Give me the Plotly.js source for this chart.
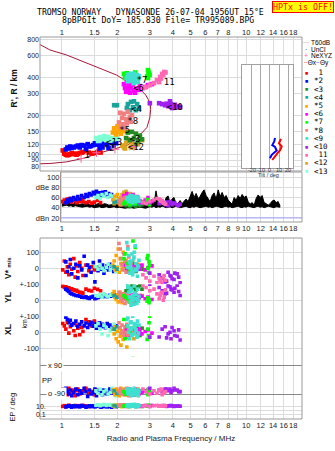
<!DOCTYPE html>
<html><head><meta charset="utf-8">
<script src="https://cdn.plot.ly/plotly-3.0.1.min.js"></script>
<style>html,body{margin:0;padding:0;background:#fff}#chart{width:335px;height:451px}</style>
</head><body><div id="chart"></div>
<script>
// ---------- axis ticks ----------
const gridF = [1,1.5,2,3,4,5,6,7,8,9,10,12,14,16,18];
const topTickText = ['1','1.5','2','3','4','5','6','7','8','','10','12','14','16','18'];
const midTickText = ['1','1.5','2','3','4','5','6','7','8','9','10','12','14','16','18'];
const botTickText = ['1','1.5','2','3','4','5','6','7','8','','10','12','14','16','18'];
const hTicks = [80,90,100,120,150,200,300,400,600,800];
const dbTicks = [20,40,60,80,100];
const dbTickText = ['dBn 20','40','60','dBe 80','100'];
const tiltTicks = [-20,-10,0,10,20];

// ---------- echo classes ----------
const classNames = ['1','*2','<3','<4','*5','<6','*7','*8','<9','<10','11','<12','<13'];
const classColors = ['#ff0000','#0000ff','#228b22','#1aa39a','#ffa500','#ff00ff','#00ff00','#f08080','#40e0d0','#a020f0','#ff69b4','#daa520','#7fffd4'];

// class 1 (red)
const c1_f  = [1.01,1.03,1.05,1.07,1.09,1.11,1.13,1.16,1.18,1.20,1.22,1.25,1.28,1.30,1.35,1.40,1.45,1.50,1.56,1.62];
const c1_h  = [107,101,99,98,99,100,102,101,100,99,101,102,103,104,106,103,101,102,104,103];
const c1_amp= [52,55,50,57,53,58,51,54,56,50,55,52,57,53,50,52,49,51,54,50];
const c1_vs = [-10,45,-25,10,-40,25,-5,60,-55,15,-20,35,0,-45,20,-15,10,-10,5,-5];
const c1_yl = [88,80,84,75,78,70,72,65,60,62,55,50,48,45,70,62,58,75,68,60];
const c1_xl = [55,40,20,62,-5,35,50,10,-20,45,25,-15,30,5,80,65,40,70,55,45];
const c1_pp = [-60,-80,-70,-95,-55,-85,-75,-65,-100,-70,-60,-90,-80,-70,-55,-85,-75,-95,-65,-80];
const c1_ep = [8,12,6,10,15,9,11,7,13,10,8,12,9,14,10,7,11,9,12,8];
// class *2 (blue)
const c2_f  = [1.05,1.07,1.09,1.11,1.13,1.16,1.19,1.22,1.25,1.28,1.32,1.35,1.38,1.41,1.44,1.48,1.51,1.54,1.57,1.60,1.63,1.66,1.69,1.72,1.76,1.79,1.82,1.86,1.91,1.97];
const c2_h  = [109,113,111,115,112,113,115,117,113,118,117,110,120,115,116,118,122,119,120,111,117,113,122,124,120,112,125,123,117,122];
const c2_amp= [50,55,52,58,54,60,56,62,57,64,60,66,62,68,65,70,67,72,66,69,64,70,67,71,65,68,63,66,60,62];
const c2_vs = [40,-20,10,55,-35,0,25,-60,15,-10,75,-45,20,5,-25,35,-85,10,-15,45,-5,20,-30,0,15,-10,25,5,-20,10];
const c2_yl = [70,62,55,45,40,35,30,28,25,20,18,22,15,12,20,25,10,15,18,22,28,20,25,30,22,28,32,25,30,35];
const c2_xl = [95,80,60,75,45,55,70,35,50,65,40,58,30,48,62,38,52,25,45,60,35,50,42,28,55,38,45,30,22,40];
const c2_pp = [-55,-75,-90,-65,-100,-80,-60,-95,-70,-85,-55,-75,-105,-65,-90,-80,-60,-100,-70,-85,-75,-95,-65,-80,-90,-70,-60,-85,-75,-95];
const c2_ep = [6,9,12,8,5,11,7,10,6,13,9,5,8,11,7,10,6,9,12,8,5,10,7,9,6,11,8,5,9,7];
// class <3 (forest green)
const c3_f  = [2.23,2.28,2.34,2.40,2.46,2.52,2.59,2.65,2.72,2.52];
const c3_h  = [134,148,129,150,134,145,127,140,131,120];
const c3_amp= [44,46,42,48,45,43,47,44,46,45];
const c3_vs = [20,0,-10,30,10,-20,5,15,-5,25];
const c3_yl = [60,80,70,90,75,65,85,95,70,80];
const c3_xl = [30,10,-10,20,0,40,15,-20,25,5];
const c3_pp = [-80,-70,-90,-75,-85,-65,-95,-80,-70,-88];
const c3_ep = [10,8,12,9,11,7,13,10,8,12];
// class <4 (teal)
const c4_f  = [1.92,1.99,2.25,2.28,2.34,2.37,2.43,2.46,2.52,2.56,2.62];
const c4_h  = [243,243,231,248,222,258,234,261,222,248,231];
const c4_amp= [50,52,48,54,46,50,52,47,49,51,48];
const c4_vs = [10,-5,20,0,15,-10,5,25,-15,10,0];
const c4_yl = [30,20,10,40,0,25,15,-10,35,5,20];
const c4_xl = [20,35,0,10,-15,25,5,-5,15,30,-10];
const c4_pp = [-70,-85,-60,-90,-75,-80,-65,-95,-70,-85,-75];
const c4_ep = [12,9,15,11,8,13,10,14,9,12,10];
// class *5 (orange)
const c5_f  = [1.89,1.92,1.94,1.97,2.00,2.02,2.05,2.07,2.09,2.12,2.15,2.17,2.21,2.25];
const c5_h  = [148,160,153,143,166,150,163,153,145,160,169,153,158,150];
const c5_amp= [55,48,62,52,66,50,58,46,60,54,64,49,57,52];
const c5_vs = [20,45,-10,80,5,120,-25,60,30,-5,100,15,40,-20];
const c5_yl = [40,55,20,5,35,-10,25,50,0,-15,30,15,45,10];
const c5_xl = [20,-10,35,-40,5,-60,25,-25,-80,10,-45,0,-20,-92];
const c5_pp = [-65,-80,-95,-60,-85,-70,-100,-75,-55,-90,-80,-65,-95,-70];
const c5_ep = [10,14,8,12,16,9,13,11,15,7,12,10,14,9];
// class <6 (magenta)
const c6_f  = [2.17,2.25,2.34,2.43,2.20,2.28,2.37,2.46,2.56,2.23,2.34,2.49,2.62,2.72,2.83,2.93,3.08,2.65,2.31];
const c6_h  = [356,363,350,356,332,321,332,316,327,310,305,305,321,332,338,350,356,344,344];
const c6_amp= [64,68,62,66,58,60,64,56,62,60,58,54,52,50,55,60,52,54,62];
const c6_vs = [20,0,-10,10,30,-20,5,15,-5,25,-15,10,0,20,-10,5,15,-5,10];
const c6_yl = [20,10,30,0,15,25,5,35,20,10,30,0,15,25,10,20,5,30,15];
const c6_xl = [10,-10,20,0,-20,15,5,-5,25,10,-15,0,20,-10,5,15,-5,10,0];
const c6_pp = [-70,-85,-60,-90,-75,-80,-65,-95,-70,-85,-75,-60,-90,-80,-70,-65,-85,-75,-95];
const c6_ep = [12,9,15,11,8,13,10,14,9,12,10,15,8,11,13,9,14,10,12];
// class *7 (bright green)
const c7_f  = [2.17,2.25,2.34,2.20,2.93,2.97,2.93,2.95,2.90,2.99,2.43,2.50];
const c7_h  = [429,434,414,398,459,429,398,445,410,420,420,440];
const c7_amp= [48,50,46,52,54,50,48,52,56,46,50,48];
const c7_vs = [60,30,-10,90,80,40,0,-25,60,20,170,130];
const c7_yl = [30,10,-10,20,15,-15,5,10,-5,0,20,10];
const c7_xl = [80,40,0,-40,120,60,20,-20,-44,100,-159,40];
const c7_pp = [-75,-85,-65,-90,-70,-80,-95,-60,-85,-75,-70,-90];
const c7_ep = [10,13,8,12,14,9,11,15,10,12,9,11];
// class *8 (light coral)
const c8_f  = [2.04,2.07,2.09,2.12,2.14,2.17,2.20,2.23,2.25,2.28,2.31,2.34,2.37,2.40];
const c8_h  = [178,212,163,193,172,208,161,189,175,216,185,197,180,203];
const c8_amp= [54,50,58,46,56,52,60,48,55,50,57,47,53,49];
const c8_vs = [155,120,60,20,-10,90,40,-25,10,135,70,-5,30,0];
const c8_yl = [50,30,10,-5,25,40,-20,15,0,35,-10,20,5,-15];
const c8_xl = [60,30,-5,45,10,-20,35,0,50,-15,20,-10,25,5];
const c8_pp = [-75,-60,-90,-80,-70,-95,-65,-85,-55,-75,-100,-70,-80,-90];
const c8_ep = [14,18,11,16,20,13,17,12,19,15,10,16,13,18];
// class <9 (turquoise)
const c9_f  = [2.25,2.28,2.30,2.33,2.35,2.37,2.40,2.42,2.45,2.47,2.50,2.52,2.55,2.57,2.60,2.62,2.28,2.34,2.40,2.46,2.52,2.58,2.37,2.49];
const c9_h  = [400,422,410,391,383,429,414,398,363,369,405,390,420,380,395,410,375,415,385,430,400,370,395,408];
const c9_amp= [56,60,52,62,58,54,64,50,60,56,62,52,58,55,60,53,57,63,51,59,55,61,54,58];
const c9_vs = [160,120,80,40,20,0,-20,-40,60,100,140,30,-10,-50,10,50,5,-30,90,70,-5,15,45,-15];
const c9_yl = [110,80,50,20,-10,-30,60,30,0,90,40,10,-20,70,-5,25,100,55,15,-25,35,5,75,45];
const c9_xl = [80,40,0,-40,60,20,-20,100,30,-10,50,10,-30,70,-5,45,90,25,-15,55,15,-25,65,35];
const c9_pp = [-60,-75,-90,-70,-85,-100,-65,-80,-95,-55,-70,-90,-80,-65,-100,-75,-85,-60,-95,-70,-80,-90,-65,-75];
const c9_ep = [10,14,8,18,12,22,9,16,11,25,13,7,19,10,15,12,20,9,14,11,17,8,13,21];
// class <10 (purple)
const c10_f  = [3.00,3.37,3.50,3.63,3.77,3.91,4.06,4.22,4.38,3.86,3.96,4.10,4.30,3.70];
const c10_h  = [252,252,248,243,239,248,239,234,234,261,231,245,238,250];
const c10_amp= [50,48,52,46,44,50,48,45,47,52,46,49,44,51];
const c10_vs = [-30,-40,-60,-85,-25,-50,-70,-35,-90,-45,-65,-30,-55,-80];
const c10_yl = [100,80,60,40,90,70,50,95,30,85,65,75,55,45];
const c10_xl = [-30,-29,20,35,-10,-40,10,-25,-48,0,30,-20,15,-35];
const c10_pp = [-55,-65,-75,-60,-70,-80,-55,-65,-75,-60,-70,-65,-75,-60];
const c10_ep = [8,10,12,9,11,13,8,10,9,12,11,10,9,8];
// class 11 (hot pink)
const c11_f  = [2.75,2.86,3.00,3.16,3.28,3.41,3.50,3.59,3.37,3.45,3.55,3.65];
const c11_h  = [332,338,350,363,383,406,429,444,369,395,420,440];
const c11_amp= [50,48,52,55,58,56,54,50,57,53,49,47];
const c11_vs = [-40,-60,-80,-50,-90,-70,-100,-45,-65,-85,-55,-75];
const c11_yl = [95,80,60,70,40,30,50,20,10,45,0,65];
const c11_xl = [null,null,null,null,null,null,null,null,null,null,null,null];
const c11_pp = [-60,-75,-90,-70,-85,-65,-95,-80,-70,-60,-85,-75];
const c11_ep = [10,13,8,12,14,9,11,15,10,12,9,11];
// class <12 (goldenrod)
const c12_f  = [2.12,2.17,2.20,2.23,2.28,2.34,2.37,2.42,2.46,2.50,2.59,2.72];
const c12_h  = [117,113,111,122,131,127,113,120,115,118,120,129];
const c12_amp= [66,70,60,72,64,68,58,66,62,60,56,52];
const c12_vs = [30,10,-10,50,20,0,-20,40,15,-5,25,10];
const c12_yl = [40,20,30,5,25,-10,15,35,0,20,10,30];
const c12_xl = [10,-20,30,0,-30,15,-10,20,-40,5,-15,25];
const c12_pp = [-70,-85,-60,-95,-75,-80,-65,-90,-70,-85,-60,-75];
const c12_ep = [12,9,15,11,8,13,10,14,9,12,11,8];
// class <13 (aquamarine)
const c13_f  = [1.53,1.57,1.61,1.65,1.69,1.74,1.78,1.83,1.87,1.92,1.96,2.00];
const c13_h  = [134,127,136,131,139,129,137,128,134,131,136,133];
const c13_amp= [60,64,58,66,62,68,60,65,63,58,61,56];
const c13_vs = [10,-5,20,0,-15,5,25,-10,15,0,-20,10];
const c13_yl = [30,25,35,20,40,28,22,32,38,25,30,20];
const c13_xl = [40,55,20,-10,45,30,-20,10,25,50,-5,15];
const c13_pp = [-70,-85,-60,-95,-75,-65,-90,-80,-55,-70,-100,-85];
const c13_ep = [15,20,12,18,25,14,22,16,19,13,21,17];

// cluster labels
const lab_f = [1.37,1.80,2.49,2.54,2.19,2.60,2.72,2.42,1.92,4.09,3.82,2.52];
const lab_h = [96.8,109.5,129,222,152,327,382,179,122,232,366,112.7];
const lab_t = ['1','*2','<3','<4','*5','<6','*7','*8','<13','<10','11','<12'];

// profile curve (dark red)
const curve_f = [0.76,0.86,1.06,1.31,1.61,1.98,2.34,2.55,2.71,2.85,2.94,3.02,3.03,3.00,2.89,2.71,2.49,2.25,1.90,1.61,1.31,1.06,0.86,0.76];
const curve_h = [730,662,604,535,474,420,361,330,315,292,270,245,225,194,162,146,129,117,109.5,102.6,92.9,87,84.5,84];
// NeXYZ markers
const ne_f = [1.27,1.54,1.94,2.46];
const ne_h = [92.5,102.6,109.3,115];

// tilt profiles
const tiltY_deg = [5.5,4.7,2.5,5.5,7.3,4.7,1.9,0];
const tiltY_h   = [134,126,118,114,107,103,99,93];
const tiltX_deg = [12,9.8,12.8,10.9,8.4,5.5,2.5];
const tiltX_h   = [132,122,115,107,102.5,97,90];

// noise amplitude (black)
const noise_f = [1.0,1.03,1.06,1.09,1.12,1.15,1.18,1.21,1.25,1.29,1.33,1.37,1.41,1.45,1.5,1.55,1.6,1.65,1.7,1.75,1.8,1.86,1.92,1.98,2.05,2.12,2.2,2.28,2.36,2.45,2.55,2.65,2.75,2.85,2.95,
 3.01,3.08,3.16,3.24,3.33,3.41,3.50,3.58,3.68,3.77,3.86,3.96,4.06,4.17,4.27,4.38,4.49,4.60,4.72,4.84,4.96,5.09,5.22,5.35,5.49,5.62,5.77,5.91,6.06,6.22,6.37,6.54,6.70,6.87,7.05,7.22,
 7.41,7.59,7.79,7.98,8.19,8.39,8.61,8.82,9.05,9.28,9.51,9.75,10.0,10.25,10.51,10.78,11.05,11.33,11.62,11.91,12.21,12.52,12.84,13.17,13.50,13.84,14.19,14.55,14.92,15.30];
const noise_hi = [47,49,52,48,50,47,51,49,46,48,47,50,46,48,45,47,49,46,48,47,45,46,48,47,45,47,46,44,46,47,45,46,47,45,48,
 52,56,46,73,50,45,48,46,60,63,50,57,60,47,49,54,48,52,57,52,62,72,60,68,58,62,70,75,64,58,52,64,69,57,75,62,
 70,60,64,55,50,47,60,55,64,58,66,60,63,52,47,50,45,58,65,60,64,50,48,45,48,53,55,50,52,43];
const noise_lo = [43,44,45,43,44,42,44,43,42,41,42,43,41,42,40,41,42,40,41,42,40,41,42,40,41,40,39,40,41,39,40,41,40,39,41,
 42,41,43,40,42,41,43,42,40,41,42,40,41,43,42,40,41,42,43,41,40,42,41,43,42,40,41,42,43,41,42,40,41,43,42,41,
 40,42,43,41,42,40,41,42,43,41,40,42,41,43,42,41,40,42,43,41,42,40,41,43,42,41,40,42,41,41];

// ---------- build ----------
const classData = [
 [c1_f,c1_h,c1_amp,c1_vs,c1_yl,c1_xl,c1_pp,c1_ep],
 [c2_f,c2_h,c2_amp,c2_vs,c2_yl,c2_xl,c2_pp,c2_ep],
 [c3_f,c3_h,c3_amp,c3_vs,c3_yl,c3_xl,c3_pp,c3_ep],
 [c4_f,c4_h,c4_amp,c4_vs,c4_yl,c4_xl,c4_pp,c4_ep],
 [c5_f,c5_h,c5_amp,c5_vs,c5_yl,c5_xl,c5_pp,c5_ep],
 [c6_f,c6_h,c6_amp,c6_vs,c6_yl,c6_xl,c6_pp,c6_ep],
 [c7_f,c7_h,c7_amp,c7_vs,c7_yl,c7_xl,c7_pp,c7_ep],
 [c8_f,c8_h,c8_amp,c8_vs,c8_yl,c8_xl,c8_pp,c8_ep],
 [c9_f,c9_h,c9_amp,c9_vs,c9_yl,c9_xl,c9_pp,c9_ep],
 [c10_f,c10_h,c10_amp,c10_vs,c10_yl,c10_xl,c10_pp,c10_ep],
 [c11_f,c11_h,c11_amp,c11_vs,c11_yl,c11_xl,c11_pp,c11_ep],
 [c12_f,c12_h,c12_amp,c12_vs,c12_yl,c12_xl,c12_pp,c12_ep],
 [c13_f,c13_h,c13_amp,c13_vs,c13_yl,c13_xl,c13_pp,c13_ep]
];
const drawOrder = [0,1,12,4,11,2,3,5,7,6,9,10,8];

// pixel geometry of the page (layout only)
const PL=40, PR=302, PT=37, PB=419, DL=60.5;
const fx = px => (px-PL)/(PR-PL);
const fy = py => (PB-py)/(PB-PT);

const traces = [];
traces.push({x:noise_f, y:noise_lo, xaxis:'x2', yaxis:'y2', mode:'lines', line:{color:'#000', width:1}, hoverinfo:'skip'});
traces.push({x:noise_f, y:noise_hi, xaxis:'x2', yaxis:'y2', mode:'lines', fill:'tonexty', fillcolor:'#000', line:{color:'#000', width:1}, hoverinfo:'skip'});
traces.push({x:curve_f, y:curve_h, xaxis:'x', yaxis:'y', mode:'lines', line:{color:'#a8163c', width:1}});
const axPairs = [['x','y'],['x2','y2'],['x3','y3'],['x3','y4'],['x3','y5'],['x3','y6'],['x3','y7']];
for (const ci of drawOrder) {
  const d = classData[ci];
  for (let k=0;k<7;k++) {
    traces.push({x:d[0], y:d[k+1], xaxis:axPairs[k][0], yaxis:axPairs[k][1], mode:'markers',
      marker:{symbol:'square', size:(k===0?4.6:3.6), color:classColors[ci], line:{width:0}}});
  }
}
traces.push({x:ne_f, y:ne_h, xaxis:'x', yaxis:'y', mode:'markers', marker:{symbol:'cross-thin', size:6, line:{color:'#ff6699', width:1}}});
traces.push({x:lab_f, y:lab_h, text:lab_t, xaxis:'x', yaxis:'y', mode:'text', textfont:{family:'DejaVu Sans Mono', size:9, color:'#000'}});
traces.push({x:tiltY_deg, y:tiltY_h, xaxis:'x4', yaxis:'y8', mode:'lines', line:{color:'#0000ff', width:2}});
traces.push({x:tiltX_deg, y:tiltX_h, xaxis:'x4', yaxis:'y8', mode:'lines', line:{color:'#ff0000', width:2}});

const fRange = [Math.log10(0.76), Math.log10(20.1)];
const fRange2 = [Math.log10(0.76) + (DL-PL)/184, Math.log10(20.1)];
const GRID = '#dcdcdc';
const tf = {family:'Liberation Sans', size:7.5, color:'#222'};
const xbase = {type:'log', range:fRange, domain:[0,1], tickvals:gridF, showgrid:true, gridcolor:GRID, zeroline:false, showline:false, ticks:'', tickangle:0, tickfont:{family:'Liberation Sans', size:7.5, color:'#222'}};
const ybase = {showgrid:true, gridcolor:GRID, zeroline:false, showline:false, ticks:'', tickfont:tf};

const layout = {
  width:335, height:451, margin:{l:PL, r:335-PR, t:PT, b:451-PB}, showlegend:false,
  paper_bgcolor:'#fff', plot_bgcolor:'#fff',
  xaxis: Object.assign({}, xbase, {anchor:'y', side:'top', ticktext:topTickText}),
  yaxis: Object.assign({}, ybase, {type:'log', domain:[fy(171),1], range:[1.8677,2.9228], tickvals:hTicks, ticktext:hTicks.map(String), anchor:'x', tickfont:{family:'Liberation Sans', size:7, color:'#222'}}),
  xaxis2: Object.assign({}, xbase, {anchor:'y2', side:'bottom', domain:[fx(DL),1], range:fRange2, ticktext:midTickText}),
  yaxis2: Object.assign({}, ybase, {domain:[fy(222),fy(172)], range:[12,110], tickvals:dbTicks, ticktext:dbTickText, anchor:'x2'}),
  xaxis3: Object.assign({}, xbase, {anchor:'y7', side:'bottom', ticktext:botTickText,
     title:{text:'Radio and Plasma Frequency / MHz', font:{family:'Liberation Sans', size:8, color:'#222'}, standoff:6}}),
  yaxis3: Object.assign({}, ybase, {domain:[fy(284.3),fy(238)], range:[-100,189], tickvals:[100,0], ticktext:['100','0'], anchor:'x3'}),
  yaxis4: Object.assign({}, ybase, {domain:[fy(316.3),fy(284.3)], range:[-100,100], tickvals:[100,0,-100], ticktext:['+-100','0',''], anchor:'x3'}),
  yaxis5: Object.assign({}, ybase, {domain:[fy(356.3),fy(316.3)], range:[-150,100], tickvals:[100,0,-100], ticktext:['+-100','0','-100'], anchor:'x3'}),
  yaxis6: Object.assign({}, ybase, {domain:[fy(400),fy(356.3)], range:[-127.2,144], tickvals:[90,-90], ticktext:['',''], gridcolor:'#888', anchor:'x3'}),
  yaxis7: Object.assign({}, ybase, {type:'log', domain:[0,fy(400)], range:[-2.25,2.5], tickvals:[10,1,0.1], ticktext:['','',''], anchor:'x3'}),
  xaxis4: {domain:[fx(242.3),fx(293.3)], range:[-30.3,25.5], anchor:'y8', tickvals:tiltTicks, showticklabels:false,
     showgrid:true, gridcolor:'#a8a8a8', zeroline:false, showline:true, mirror:true, linecolor:'#a0a0a0', ticks:''},
  yaxis8: {type:'log', domain:[fy(167.7),fy(65)], range:[Math.log10(78.3),Math.log10(504)], anchor:'x4', showgrid:false,
     showticklabels:false, zeroline:false, showline:true, mirror:true, linecolor:'#a0a0a0', ticks:''},
  shapes: [], annotations: []
};

const FR = '#9a9a9a';
layout.shapes.push({type:'rect', xref:'paper', yref:'paper', x0:0, x1:1, y0:fy(171), y1:fy(37), line:{color:FR, width:1}, fillcolor:'rgba(0,0,0,0)', layer:'above'});
layout.shapes.push({type:'rect', xref:'paper', yref:'paper', x0:fx(DL), x1:1, y0:fy(222), y1:fy(172), line:{color:FR, width:1}, fillcolor:'rgba(0,0,0,0)', layer:'above'});
layout.shapes.push({type:'rect', xref:'paper', yref:'paper', x0:0, x1:1, y0:fy(419), y1:fy(238), line:{color:FR, width:1}, fillcolor:'rgba(0,0,0,0)', layer:'above'});
layout.shapes.push({type:'line', xref:'paper', yref:'y2', x0:fx(DL), x1:1, y0:20, y1:20, line:{color:'#a0a0ff', width:1}, layer:'above'});

const A = (px, py, text, opt={}) => layout.annotations.push(Object.assign({xref:'paper', yref:'paper', x:fx(px), y:fy(py), text, showarrow:false, xanchor:'center', yanchor:'middle'}, opt));
const mono = (s,c='#000') => ({family:'DejaVu Sans Mono', size:s, color:c});
const sans = (s,c='#000') => ({family:'Liberation Sans', size:s, color:c});
const bold = (s,c='#111') => ({family:'Liberation Sans', size:s, color:c, weight:'bold'});

A(35, 12.5, 'TROMSO NORWAY\u00a0\u00a0\u00a0DYNASONDE 26-07-04 1956UT 15°E', {xanchor:'left', font:mono(8.2)});
A(60, 20.5, '8pBP6It DoY= 185.830 File= TR995089.BPG', {xanchor:'left', font:mono(8.2)});
A(302.5, 7, 'HPTx is OFF!', {font:mono(8.3,'#ff0000'), bgcolor:'#ffff00', bordercolor:'#ff0000', borderwidth:1, borderpad:0});

A(13.5, 88, "R', R / km", {textangle:-90, font:bold(8.5)});
A(8, 268, "V* <span style='font-size:6px'>m/s</span>", {textangle:-90, font:bold(8.5)});
A(8, 298, 'YL', {textangle:-90, font:bold(8.5)});
A(24, 323.5, 'km', {textangle:-90, font:sans(7,'#111')});
A(8, 330, 'XL', {textangle:-90, font:bold(8.5)});
A(11.5, 407, 'EP / deg', {textangle:-90, font:sans(7.5,'#111')});
A(46.5, 380, 'PP', {font:sans(7.5,'#111')});
A(46, 365, 'x 90', {xanchor:'left', font:sans(7.5,'#111'), bgcolor:'#fff'});
A(46, 393.5, 'o -90', {xanchor:'left', font:sans(7.5,'#111'), bgcolor:'#fff'});
A(40.5, 406, '10.', {font:sans(7,'#111')});
A(40.5, 414, '0.1', {font:sans(7,'#111')});
// inset tilt tick labels and title
tiltTicks.forEach(t => layout.annotations.push({xref:'x4', yref:'paper', x:t, y:fy(170.3), text:String(t), showarrow:false, xanchor:'center', yanchor:'middle', font:sans(5.5,'#333')}));
A(268, 175.3, 'Tilt / deg', {font:sans(5.5,'#333')});

// legend
A(305.5, 42.3, '—', {font:sans(6,'#aaa')});
A(309, 42.3, 'T60dB', {xanchor:'left', font:sans(6.5)});
A(305.5, 49, '·', {font:sans(7)});
A(309, 49, 'UnCl', {xanchor:'left', font:sans(6.5)});
A(305.5, 55.7, '+', {font:sans(7,'#ff6699')});
A(309, 55.7, 'NeXYZ', {xanchor:'left', font:sans(6.5)});
A(302, 62.7, "<span style='color:#ff4040'>−</span>Θx<span style='color:#4040ff'>−</span>Θy", {xanchor:'left', font:sans(6.5)});
const legLabels = ['\u00a01','*2','<3','<4','*5','<6','*7','*8','<9','<10','\u00a011','<12','<13'];
legLabels.forEach((t,i) => {
  const py = 72.7 + 8.2*i;
  A(306.7, py, '■', {font:sans(5.5, classColors[i])});
  A(311.5, py, t, {xanchor:'left', font:mono(7.5)});
});

Plotly.newPlot('chart', traces, layout, {staticPlot:true, displayModeBar:false});
</script></body></html>
